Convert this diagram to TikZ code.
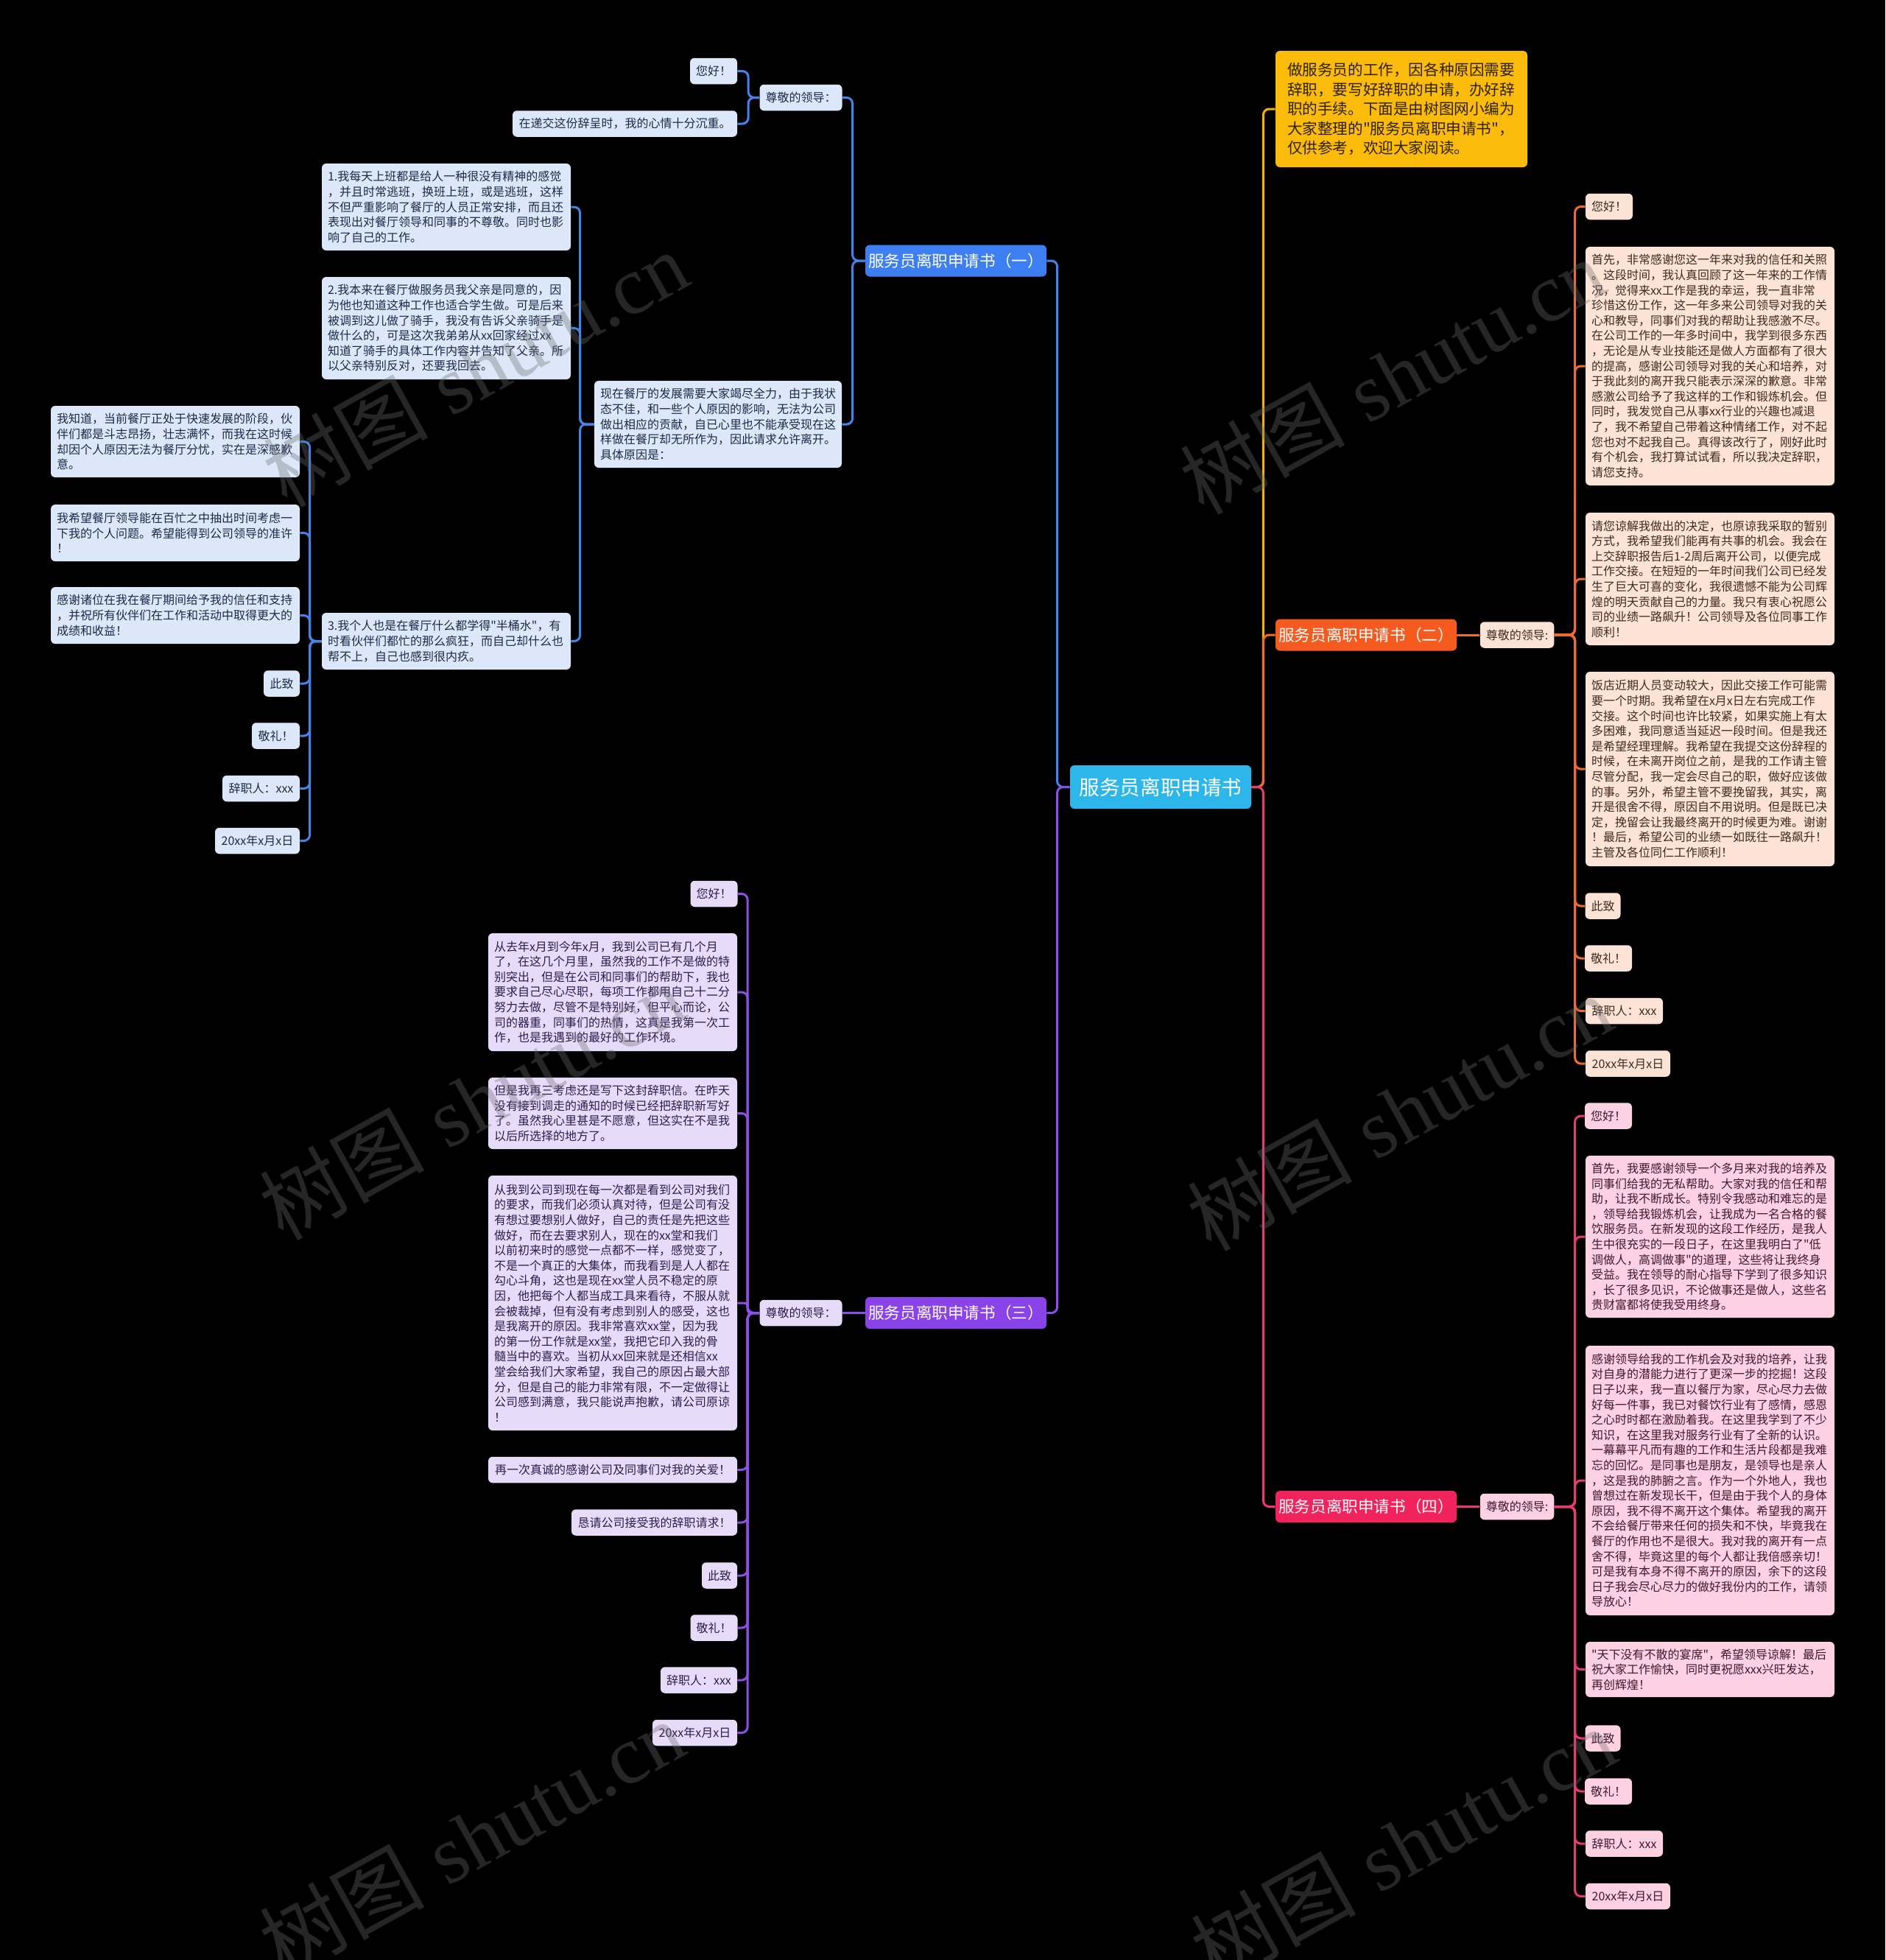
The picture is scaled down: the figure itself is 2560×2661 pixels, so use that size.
\documentclass[tikz,border=0pt]{standalone}
\usepackage{fontspec}
\setmainfont{Noto Sans CJK SC}
\newfontfamily\cjkmain{Noto Sans CJK SC}
\newfontfamily\wmlatin{Liberation Serif}
\newfontfamily\wmcjk{Noto Sans CJK SC}
\newcommand{\mmbox}{\cjkmain\fontsize{8pt}{10.3pt}\selectfont}
\newcommand{\mmintro}{\cjkmain\fontsize{10.3pt}{13.3pt}\selectfont}
\newcommand{\mmbranch}{\cjkmain\fontsize{10.8pt}{13pt}\selectfont}
\newcommand{\mmcenter}{\cjkmain\fontsize{13.8pt}{16pt}\selectfont}
\definecolor{bluefill}{HTML}{DCE8FA}
\definecolor{bluetext}{HTML}{1B2A48}
\definecolor{blueline}{HTML}{4483E8}
\definecolor{bluenode}{HTML}{3D7FF2}
\definecolor{purplefill}{HTML}{E6DCFA}
\definecolor{purpletext}{HTML}{2C1D4D}
\definecolor{purpleline}{HTML}{8E4FE6}
\definecolor{purplenode}{HTML}{8A43E9}
\definecolor{orangefill}{HTML}{FDE3D6}
\definecolor{orangetext}{HTML}{3E2A20}
\definecolor{orangeline}{HTML}{F26A2E}
\definecolor{orangenode}{HTML}{F55A1F}
\definecolor{pinkfill}{HTML}{FDD1E2}
\definecolor{pinktext}{HTML}{3D1A2B}
\definecolor{pinkline}{HTML}{EA3A74}
\definecolor{pinknode}{HTML}{F1235D}
\definecolor{yellowfill}{HTML}{FBBB0A}
\definecolor{yellowtext}{HTML}{2E2200}
\definecolor{yellowline}{HTML}{F5B000}
\definecolor{centerfill}{HTML}{2CB6EA}
\definecolor{wmgray}{HTML}{6E6E6E}
\begin{document}
\begin{tikzpicture}[x=0.5pt,y=-0.5pt,
  box/.style={rounded corners=3pt, inner xsep=4pt, inner ysep=2pt, font=\mmbox, minimum height=17.75pt},
  lbox/.style={box, align=left, text width=161pt},
  fblue/.style={fill=bluefill, text=bluetext},
  fpurple/.style={fill=purplefill, text=purpletext},
  forange/.style={fill=orangefill, text=orangetext},
  fpink/.style={fill=pinkfill, text=pinktext},
  branch/.style={rounded corners=3pt, text=white, font=\mmbranch, minimum width=123pt, minimum height=21.5pt, inner sep=0pt},
  conn/.style={line width=1.5pt, rounded corners=4pt},
  lblue/.style={conn, draw=blueline},
  lpurple/.style={conn, draw=purpleline},
  lorange/.style={conn, draw=orangeline},
  lpink/.style={conn, draw=pinkline},
  lyellow/.style={conn, draw=yellowline},
  wm/.style={text=wmgray, text opacity=0.35, font=\fontsize{56pt}{60pt}\selectfont, inner sep=0pt}
]
\useasboundingbox (0,0) rectangle (2560,2661);
\fill[black] (0,0) rectangle (2560,2661);

% centre and intro
\node[rounded corners=3pt, fill=centerfill, text=white, font=\mmcenter, minimum width=123pt, minimum height=29.5pt, inner sep=0pt] (C) at (1576,1068.5) {服务员离职申请书};
\node[rounded corners=3pt, fill=yellowfill, text=yellowtext, font=\mmintro, align=left, text width=155pt, inner xsep=8pt, inner ysep=2pt, minimum height=79pt] (I) at (1903,148) {做服务员的工作，因各种原因需要\\辞职，要写好辞职的申请，办好辞\\职的手续。下面是由树图网小编为\\大家整理的"服务员离职申请书"，\\仅供参考，欢迎大家阅读。};

% branches
\node[branch, fill=bluenode] (B1) at (1298,354) {服务员离职申请书（一）};
\node[branch, fill=orangenode] (B2) at (1855,862) {服务员离职申请书（二）};
\node[branch, fill=purplenode] (B3) at (1298,1782.5) {服务员离职申请书（三）};
\node[branch, fill=pinknode] (B4) at (1855,2045.5) {服务员离职申请书（四）};

% ---------- branch 1 ----------
\node[box, fblue, minimum width=55.5pt] (R1) at (1087.5,132.5) {尊敬的领导：};
\node[box, fblue, minimum width=32pt] (H1) at (969,96.5) {您好！};
\node[box, fblue, minimum width=152.5pt] (D1) at (848.5,168) {在递交这份辞呈时，我的心情十分沉重。};
\node[lbox, fblue, text width=160pt, minimum height=59pt] (X1) at (975,576) {现在餐厅的发展需要大家竭尽全力，由于我状\\态不佳，和一些个人原因的影响，无法为公司\\做出相应的贡献，自已心里也不能承受现在这\\样做在餐厅却无所作为，因此请求允许离开。\\具体原因是：};
\node[lbox, fblue, minimum height=59pt] (P1) at (606,281) {1.我每天上班都是给人一种很没有精神的感觉\\，并且时常逃班，换班上班，或是逃班，这样\\不但严重影响了餐厅的人员正常安排，而且还\\表现出对餐厅领导和同事的不尊敬。同时也影\\响了自己的工作。};
\node[lbox, fblue, minimum height=69.5pt] (P2) at (606,445.5) {2.我本来在餐厅做服务员我父亲是同意的，因\\为他也知道这种工作也适合学生做。可是后来\\被调到这儿做了骑手，我没有告诉父亲骑手是\\做什么的，可是这次我弟弟从xx回家经过xx\\知道了骑手的具体工作内容并告知了父亲。所\\以父亲特别反对，还要我回去。};
\node[lbox, fblue, minimum height=38.5pt] (P3) at (606,870.5) {3.我个人也是在餐厅什么都学得"半桶水"，有\\时看伙伴们都忙的那么疯狂，而自己却什么也\\帮不上，自己也感到很内疚。};
\node[lbox, fblue, minimum height=48.5pt] (Q1) at (238,599.5) {我知道，当前餐厅正处于快速发展的阶段，伙\\伴们都是斗志昂扬，壮志满怀，而我在这时候\\却因个人原因无法为餐厅分忧，实在是深感歉\\意。};
\node[lbox, fblue, minimum height=38.5pt] (Q2) at (238,723.5) {我希望餐厅领导能在百忙之中抽出时间考虑一\\下我的个人问题。希望能得到公司领导的准许\\！};
\node[lbox, fblue, minimum height=38.5pt] (Q3) at (238,835.5) {感谢诸位在我在餐厅期间给予我的信任和支持\\，并祝所有伙伴们在工作和活动中取得更大的\\成绩和收益！};
\node[box, fblue, minimum width=24.5pt] (Q4) at (382.5,928) {此致};
\node[box, fblue, minimum width=32.5pt] (Q5) at (374.5,999) {敬礼！};
\node[box, fblue, minimum width=52.5pt] (Q6) at (354.5,1070.5) {辞职人：xxx};
\node[box, fblue, minimum width=57.5pt] (Q7) at (349.5,1141.5) {20xx年x月x日};

% ---------- branch 3 ----------
\node[box, fpurple, minimum width=55.5pt] (R3) at (1087.5,1782.5) {尊敬的领导：};
\node[box, fpurple, minimum width=31.5pt] (S1) at (969.5,1213.5) {您好！};
\node[lbox, fpurple, minimum height=80pt] (S2) at (832,1347) {从去年x月到今年x月，我到公司已有几个月\\了，在这几个月里，虽然我的工作不是做的特\\别突出，但是在公司和同事们的帮助下，我也\\要求自己尽心尽职，每项工作都用自己十二分\\努力去做，尽管不是特别好，但平心而论，公\\司的器重，同事们的热情，这真是我第一次工\\作，也是我遇到的最好的工作环境。};
\node[lbox, fpurple, minimum height=48.5pt] (S3) at (832,1511.5) {但是我再三考虑还是写下这封辞职信。在昨天\\没有接到调走的通知的时候已经把辞职新写好\\了。虽然我心里甚是不愿意，但这实在不是我\\以后所选择的地方了。};
\node[lbox, fpurple, minimum height=173pt] (S4) at (832,1769) {从我到公司到现在每一次都是看到公司对我们\\的要求，而我们必须认真对待，但是公司有没\\有想过要想别人做好，自己的责任是先把这些\\做好，而在去要求别人，现在的xx堂和我们\\以前初来时的感觉一点都不一样，感觉变了，\\不是一个真正的大集体，而我看到是人人都在\\勾心斗角，这也是现在xx堂人员不稳定的原\\因，他把每个人都当成工具来看待，不服从就\\会被裁掉，但有没有考虑到别人的感受，这也\\是我离开的原因。我非常喜欢xx堂，因为我\\的第一份工作就是xx堂，我把它印入我的骨\\髓当中的喜欢。当初从xx回来就是还相信xx\\堂会给我们大家希望，我自己的原因占最大部\\分，但是自己的能力非常有限，不一定做得让\\公司感到满意，我只能说声抱歉，请公司原谅\\！};
\node[box, fpurple, minimum width=169pt] (S5) at (832,1995.5) {再一次真诚的感谢公司及同事们对我的关爱！};
\node[box, fpurple, minimum width=112.5pt] (S6) at (888.5,2067) {恳请公司接受我的辞职请求！};
\node[box, fpurple, minimum width=24pt] (S7) at (977,2139) {此致};
\node[box, fpurple, minimum width=31.5pt] (S8) at (969.5,2210) {敬礼！};
\node[box, fpurple, minimum width=52pt] (S9) at (949,2281) {辞职人：xxx};
\node[box, fpurple, minimum width=57.5pt] (S10) at (943.5,2352.5) {20xx年x月x日};

% ---------- branch 2 ----------
\node[box, forange, minimum width=50pt] (R2) at (2060,862) {尊敬的领导:};
\node[box, forange, minimum width=32pt] (T1) at (2185,280.5) {您好！};
\node[lbox, forange, minimum height=162pt] (T2) at (2322,497) {首先，非常感谢您这一年来对我的信任和关照\\。这段时间，我认真回顾了这一年来的工作情\\况，觉得来xx工作是我的幸运，我一直非常\\珍惜这份工作，这一年多来公司领导对我的关\\心和教导，同事们对我的帮助让我感激不尽。\\在公司工作的一年多时间中，我学到很多东西\\，无论是从专业技能还是做人方面都有了很大\\的提高，感谢公司领导对我的关心和培养，对\\于我此刻的离开我只能表示深深的歉意。非常\\感激公司给予了我这样的工作和锻炼机会。但\\同时，我发觉自己从事xx行业的兴趣也减退\\了，我不希望自己带着这种情绪工作，对不起\\您也对不起我自己。真得该改行了，刚好此时\\有个机会，我打算试试看，所以我决定辞职，\\请您支持。};
\node[lbox, forange, minimum height=90pt] (T3) at (2322,786) {请您谅解我做出的决定，也原谅我采取的暂别\\方式，我希望我们能再有共事的机会。我会在\\上交辞职报告后1-2周后离开公司，以便完成\\工作交接。在短短的一年时间我们公司已经发\\生了巨大可喜的变化，我很遗憾不能为公司辉\\煌的明天贡献自己的力量。我只有衷心祝愿公\\司的业绩一路飙升！公司领导及各位同事工作\\顺利！};
\node[lbox, forange, minimum height=132pt] (T4) at (2322,1044) {饭店近期人员变动较大，因此交接工作可能需\\要一个时期。我希望在x月x日左右完成工作\\交接。这个时间也许比较紧，如果实施上有太\\多困难，我同意适当延迟一段时间。但是我还\\是希望经理理解。我希望在我提交这份辞程的\\时候，在未离开岗位之前，是我的工作请主管\\尽管分配，我一定会尽自己的职，做好应该做\\的事。另外，希望主管不要挽留我，其实，离\\开是很舍不得，原因自不用说明。但是既已决\\定，挽留会让我最终离开的时候更为难。谢谢\\！最后，希望公司的业绩一如既往一路飙升！\\主管及各位同仁工作顺利！};
\node[box, forange, minimum width=23.5pt] (T5) at (2176.5,1230) {此致};
\node[box, forange, minimum width=31pt] (T6) at (2184,1301) {敬礼！};
\node[box, forange, minimum width=52.5pt] (T7) at (2205.5,1372.5) {辞职人：xxx};
\node[box, forange, minimum width=57.5pt] (T8) at (2210.5,1444) {20xx年x月x日};

% ---------- branch 4 ----------
\node[box, fpink, minimum width=50pt] (R4) at (2060,2045.5) {尊敬的领导:};
\node[box, fpink, minimum width=31pt] (U1) at (2184,1515) {您好！};
\node[lbox, fpink, minimum height=110pt] (U2) at (2322,1679) {首先，我要感谢领导一个多月来对我的培养及\\同事们给我的无私帮助。大家对我的信任和帮\\助，让我不断成长。特别令我感动和难忘的是\\，领导给我锻炼机会，让我成为一名合格的餐\\饮服务员。在新发现的这段工作经历，是我人\\生中很充实的一段日子，在这里我明白了"低\\调做人，高调做事"的道理，这些将让我终身\\受益。我在领导的耐心指导下学到了很多知识\\，长了很多见识，不论做事还是做人，这些名\\贵财富都将使我受用终身。};
\node[lbox, fpink, minimum height=183pt] (U3) at (2322,2010) {感谢领导给我的工作机会及对我的培养，让我\\对自身的潜能力进行了更深一步的挖掘！这段\\日子以来，我一直以餐厅为家，尽心尽力去做\\好每一件事，我已对餐饮行业有了感情，感恩\\之心时时都在激励着我。在这里我学到了不少\\知识，在这里我对服务行业有了全新的认识。\\一幕幕平凡而有趣的工作和生活片段都是我难\\忘的回忆。是同事也是朋友，是领导也是亲人\\，这是我的肺腑之言。作为一个外地人，我也\\曾想过在新发现长干，但是由于我个人的身体\\原因，我不得不离开这个集体。希望我的离开\\不会给餐厅带来任何的损失和不快，毕竟我在\\餐厅的作用也不是很大。我对我的离开有一点\\舍不得，毕竟这里的每个人都让我倍感亲切！\\可是我有本身不得不离开的原因，余下的这段\\日子我会尽心尽力的做好我份内的工作，请领\\导放心！};
\node[lbox, fpink, minimum height=37.5pt] (U4) at (2322,2266.5) {"天下没有不散的宴席"，希望领导谅解！最后\\祝大家工作愉快，同时更祝愿xxx兴旺发达，\\再创辉煌！};
\node[box, fpink, minimum width=23.5pt] (U5) at (2176.5,2360) {此致};
\node[box, fpink, minimum width=31pt] (U6) at (2184,2432) {敬礼！};
\node[box, fpink, minimum width=52.5pt] (U7) at (2205.5,2503) {辞职人：xxx};
\node[box, fpink, minimum width=57.5pt] (U8) at (2210.5,2574.5) {20xx年x月x日};

% ---------- connectors ----------
\draw[lyellow] (C.east) -- ++(16,0) |- (I.west);
\draw[lorange] (C.east) -- ++(16,0) |- (B2.west);
\draw[lpink] (C.east) -- ++(16,0) |- (B4.west);
\draw[lblue] (C.west) -- ++(-17,0) |- (B1.east);
\draw[lpurple] (C.west) -- ++(-17,0) |- (B3.east);

\foreach \n in {R1,X1} \draw[lblue] (B1.west) -- ++(-17,0) |- (\n.east);
\foreach \n in {H1,D1} \draw[lblue] (R1.west) -- ++(-15,0) |- (\n.east);
\foreach \n in {P1,P2,P3} \draw[lblue] (X1.west) -- ++(-19,0) |- (\n.east);
\foreach \n in {Q1,Q2,Q3,Q4,Q5,Q6,Q7} \draw[lblue] (P3.west) -- ++(-16,0) |- (\n.east);

\draw[lpurple] (B3.west) -- (R3.east);
\foreach \n in {S1,S2,S3,S5,S6,S7,S8,S9,S10} \draw[lpurple] (R3.west) -- ++(-16,0) |- (\n.east);
\draw[lpurple, rounded corners=2pt] (R3.west) -- ++(-16,0) |- (S4.east);

\draw[lorange] (B2.east) -- (R2.west);
\foreach \n in {T1,T2,T3,T4,T5,T6,T7,T8} \draw[lorange] (R2.east) -- ++(28,0) |- (\n.west);

\draw[lpink] (B4.east) -- (R4.west);
\foreach \n in {U1,U2,U3,U4,U5,U6,U7,U8} \draw[lpink] (R4.east) -- ++(28,0) |- (\n.west);

% ---------- watermarks ----------
\node[wm, rotate=29] (W1) at (645,500) {{\wmcjk 树图}\hspace{16pt}{\wmlatin shutu.cn}};
\node[wm, rotate=29] (W2) at (1890,510) {{\wmcjk 树图}\hspace{16pt}{\wmlatin shutu.cn}};
\node[wm, rotate=29] (W3) at (640,1495) {{\wmcjk 树图}\hspace{16pt}{\wmlatin shutu.cn}};
\node[wm, rotate=29] (W4) at (1900,1510) {{\wmcjk 树图}\hspace{16pt}{\wmlatin shutu.cn}};
\node[wm, rotate=29] (W5) at (640,2495) {{\wmcjk 树图}\hspace{16pt}{\wmlatin shutu.cn}};
\node[wm, rotate=29] (W6) at (1905,2505) {{\wmcjk 树图}\hspace{16pt}{\wmlatin shutu.cn}};
\end{tikzpicture}
\end{document}
